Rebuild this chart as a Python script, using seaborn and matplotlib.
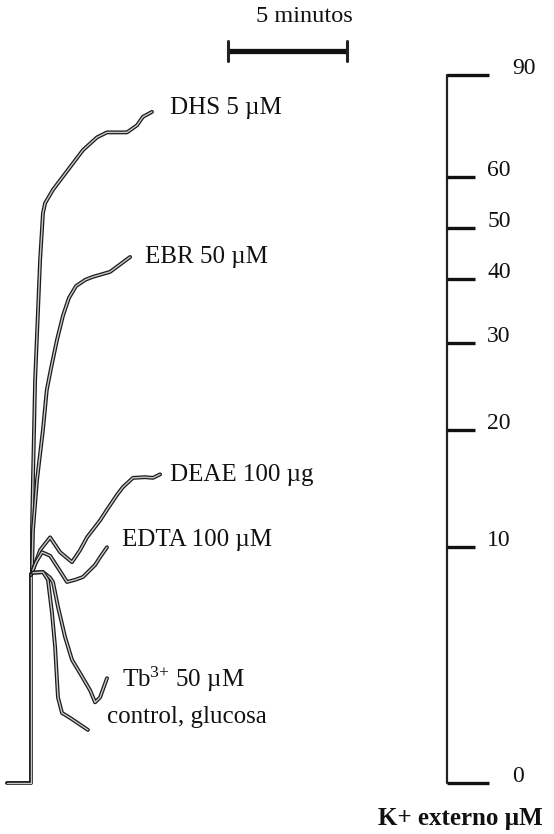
import numpy as np
import pandas as pd
import matplotlib
matplotlib.use("Agg")
import matplotlib.pyplot as plt
import matplotlib.patheffects as pe
import seaborn as sns

# ---- data (time in minutes, signal in % of full scale) ----
base_t = [-1.05, -0.04, -0.04]
base_d = [0.0, 0.0, 29.5]

dhs_t = [0.0, 0.0, 0.04, 0.13, 0.34, 0.46, 0.55, 0.88, 1.60, 2.14, 2.73, 3.15, 3.99, 4.41, 4.66, 5.04]
dhs_d = [29.7, 35.7, 42.8, 56.9, 73.9, 80.5, 81.9, 83.8, 87.0, 89.4, 91.2, 91.9, 91.9, 92.9, 94.1, 94.8]

ebr_t = [0.0, 0.04, 0.21, 0.46, 0.62, 0.80, 1.05, 1.30, 1.55, 1.85, 2.25, 2.56, 3.28, 4.12]
ebr_d = [29.7, 35.7, 42.8, 49.9, 55.5, 58.6, 62.6, 66.0, 68.5, 70.2, 71.1, 71.5, 72.2, 74.3]

deae_t = [-0.04, 0.34, 0.76, 1.18, 1.68, 2.02, 2.31, 2.86, 3.15, 3.57, 3.82, 4.24, 4.75, 5.08, 5.38]
deae_d = [29.4, 32.9, 34.7, 32.6, 31.2, 32.9, 34.7, 37.1, 38.6, 40.7, 41.8, 43.1, 43.2, 43.1, 43.6]

edta_t = [-0.04, 0.17, 0.42, 0.76, 1.09, 1.47, 1.81, 2.14, 2.65, 2.86, 3.15]
edta_d = [29.4, 31.2, 32.6, 32.1, 30.4, 28.4, 28.7, 29.1, 30.8, 31.9, 33.3]

tb_t = [0.0, 0.46, 0.76, 0.88, 1.09, 1.39, 1.68, 2.02, 2.44, 2.65, 2.86, 3.15]
tb_d = [29.7, 29.8, 29.0, 28.4, 24.9, 20.6, 17.4, 15.5, 13.1, 11.4, 12.1, 14.8]

ctrl_t = [0.04, 0.46, 0.67, 0.84, 0.97, 1.09, 1.26, 1.60, 2.35]
ctrl_d = [29.7, 29.8, 28.7, 24.0, 19.2, 12.1, 9.9, 9.2, 7.5]

series_names = ["base", "DHS", "EBR", "DEAE", "EDTA", "Tb", "control"]
curve_labels = ["DHS 5 µM", "EBR 50 µM", "DEAE 100 µg", "EDTA 100 µM",
                r"Tb$^{3{+}}$ 50 µM", "control, glucosa"]

# K+ external scale (µM) and its position on the signal axis
scale_values = [0, 10, 20, 30, 40, 50, 60, 90]
scale_pos = [0.0, 33.3, 49.9, 62.1, 71.2, 78.4, 85.6, 100.0]

bar_minutes = 5

# ---- build table ----
all_t = [base_t, dhs_t, ebr_t, deae_t, edta_t, tb_t, ctrl_t]
all_d = [base_d, dhs_d, ebr_d, deae_d, edta_d, tb_d, ctrl_d]
frames = []
for name, tt, dd in zip(series_names, all_t, all_d):
    frames.append(pd.DataFrame({"series": name, "t": tt, "d": dd, "order": range(len(tt))}))
df = pd.concat(frames, ignore_index=True)

sns.set_theme(style="white")
plt.rcParams["font.family"] = ["Liberation Serif", "DejaVu Serif"]
plt.rcParams["mathtext.fontset"] = "custom"
plt.rcParams["mathtext.rm"] = "Liberation Serif"
plt.rcParams["mathtext.it"] = "Liberation Serif:italic"

fig = plt.figure(figsize=(5.54, 8.34), dpi=100)
ax = fig.add_axes([0, 0, 1, 1])
ax.set_xlim(-1.345, 21.93)
ax.set_ylim(-7.2, 110.6)
ax.axis("off")

stroke = [pe.Stroke(linewidth=2.8, foreground="#1a1a1a"), pe.Normal()]
for name in series_names:
    sub = df[df["series"] == name]
    sns.lineplot(data=sub, x="t", y="d", sort=False, estimator=None,
                 color="#c8c8c8", linewidth=1.0, ax=ax, legend=False,
                 path_effects=stroke, solid_capstyle="round")

# curve labels
fs = 18
label_xy = [(5.80, 95.3), (4.75, 74.3), (5.80, 43.5), (3.78, 34.3), (3.78, 14.6), (3.15, 9.3)]
for txt, (x, y) in zip(curve_labels, label_xy):
    ax.text(x, y, txt, fontsize=fs, ha="left", va="center", color="#111")

# time scale bar
bx0 = 8.24
ax.plot([bx0, bx0 + bar_minutes], [103.4, 103.4], color="#111", lw=3.8, solid_capstyle="butt")
for bx in (bx0, bx0 + bar_minutes):
    ax.plot([bx, bx], [102.0, 104.8], color="#222", lw=2.2)
ax.text(11.45, 108.2, f"{bar_minutes} minutos", fontsize=17.5,
        ha="center", va="center", color="#111")

# K+ scale on the right
sx = 17.44
ax.plot([sx, sx], [scale_pos[0], scale_pos[-1]], color="#222", lw=1.6)
for v, p in zip(scale_values, scale_pos):
    long_tick = v in (scale_values[0], scale_values[-1])
    x_end = 19.2 if long_tick else 18.61
    ax.plot([sx, x_end], [p, p], color="#111", lw=2.4, solid_capstyle="butt")
    lx = 20.17 if long_tick else 19.12
    ax.text(lx, p + 0.9, str(v), fontsize=17, ha="left", va="center", color="#111")

ax.text(14.55, -5.0, "K+ externo µM", fontsize=18, fontweight="bold",
        ha="left", va="center", color="#111")

fig.savefig("out.png", dpi=100)
